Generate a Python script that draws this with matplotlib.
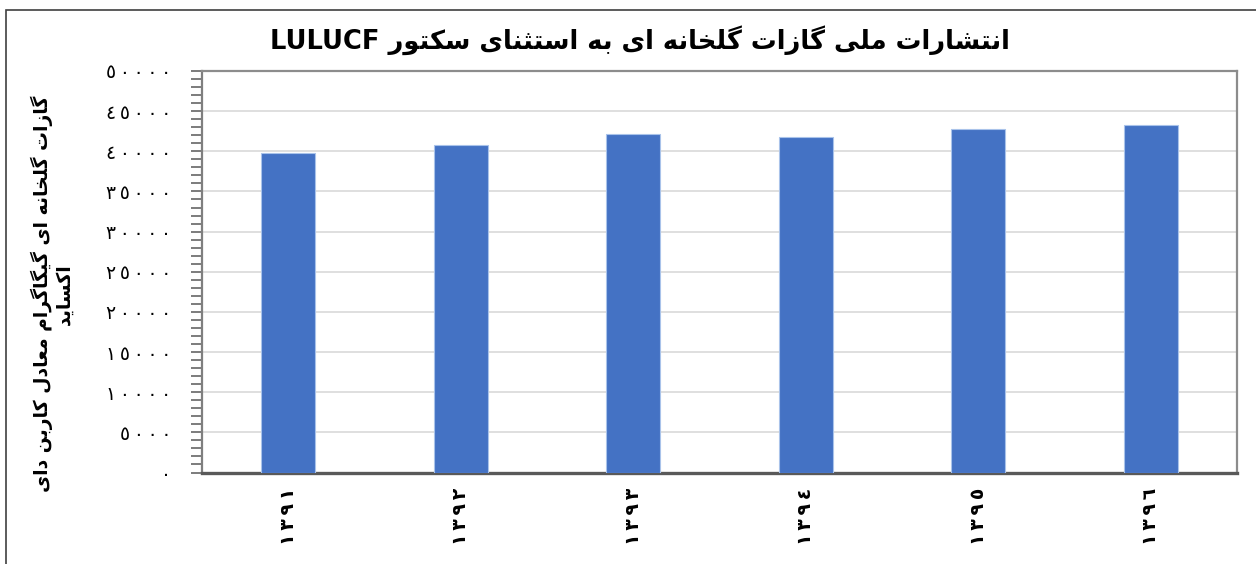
import re

import matplotlib
matplotlib.use("Agg")
import matplotlib.pyplot as plt
from matplotlib.patches import Rectangle
from matplotlib.ticker import MultipleLocator

# data
years = ["1391", "1392", "1393", "1394", "1395", "1396"]
emissions = [39800, 40800, 42100, 41800, 42800, 43300]
y_ticks = [0, 5000, 10000, 15000, 20000, 25000, 30000, 35000, 40000, 45000, 50000]

title_text = "انتشارات ملی گازات گلخانه ای به استثنای سکتور LULUCF"
ylabel_lines = ["گازات گلخانه ای گیگاگرام معادل کاربن دای", "اکساید"]

BAR_COLOR = "#4472C4"

# contextual forms: isolated, final, initial, medial
FORMS = {
    "ا": ("\uFE8D", "\uFE8E", None, None),
    "د": ("\uFEA9", "\uFEAA", None, None),
    "ر": ("\uFEAD", "\uFEAE", None, None),
    "ز": ("\uFEAF", "\uFEB0", None, None),
    "و": ("\uFEED", "\uFEEE", None, None),
    "ب": ("\uFE8F", "\uFE90", "\uFE91", "\uFE92"),
    "ت": ("\uFE95", "\uFE96", "\uFE97", "\uFE98"),
    "ث": ("\uFE99", "\uFE9A", "\uFE9B", "\uFE9C"),
    "خ": ("\uFEA5", "\uFEA6", "\uFEA7", "\uFEA8"),
    "س": ("\uFEB1", "\uFEB2", "\uFEB3", "\uFEB4"),
    "ش": ("\uFEB5", "\uFEB6", "\uFEB7", "\uFEB8"),
    "ع": ("\uFEC9", "\uFECA", "\uFECB", "\uFECC"),
    "ل": ("\uFEDD", "\uFEDE", "\uFEDF", "\uFEE0"),
    "م": ("\uFEE1", "\uFEE2", "\uFEE3", "\uFEE4"),
    "ن": ("\uFEE5", "\uFEE6", "\uFEE7", "\uFEE8"),
    "ه": ("\uFEE9", "\uFEEA", "\uFEEB", "\uFEEC"),
    "ک": ("\uFB8E", "\uFB8F", "\uFB90", "\uFB91"),
    "گ": ("\uFB92", "\uFB93", "\uFB94", "\uFB95"),
    "ی": ("\uFBFC", "\uFBFD", "\uFBFE", "\uFBFF"),
}


def shape(text):
    out = []
    for i, ch in enumerate(text):
        if ch not in FORMS:
            out.append(ch)
            continue
        prev = text[i - 1] if i > 0 else ""
        nxt = text[i + 1] if i + 1 < len(text) else ""
        joins_prev = prev in FORMS and FORMS[prev][2] is not None
        joins_next = FORMS[ch][2] is not None and nxt in FORMS
        iso, fin, ini, med = FORMS[ch]
        if joins_prev and joins_next:
            out.append(med)
        elif joins_prev:
            out.append(fin)
        elif joins_next:
            out.append(ini)
        else:
            out.append(iso)
    visual = "".join(out)[::-1]
    return re.sub(r"[A-Za-z0-9]+", lambda m: m.group(0)[::-1], visual)


def arabic_digits(s):
    # spaced out a little, like the reference
    digits = str(s).translate(str.maketrans("0123456789", "٠١٢٣٤٥٦٧٨٩"))
    return "\u2009".join(digits)


plt.rcParams["font.family"] = ["DejaVu Sans"]

fig = plt.figure(figsize=(12.56, 5.64), dpi=100)
ax = fig.add_axes([202 / 1256, 1 - 472.5 / 564, 1035 / 1256, 401.5 / 564])

x = list(range(len(years)))
ax.bar(x, emissions, width=0.315, color=BAR_COLOR, edgecolor="#a9c3ea", linewidth=0.8, zorder=3)

ax.set_xlim(-0.5, len(years) - 0.5)
ax.set_ylim(0, 50000)
ax.set_yticks(y_ticks)
ax.set_yticklabels([arabic_digits(v) for v in y_ticks], fontsize=13.5)
ax.yaxis.set_minor_locator(MultipleLocator(1000))
ax.tick_params(axis="y", which="both", direction="out", length=8, width=1.1,
               color="#595959", pad=14)
ax.set_xticks(x)
ax.set_xticklabels([arabic_digits(y) for y in years], rotation=90, fontsize=13.5,
                   fontweight="bold", va="top")
ax.tick_params(axis="x", length=0, pad=11)

ax.grid(axis="y", color="#d9d9d9", linewidth=1.2, zorder=0)
ax.set_axisbelow(True)

for side in ("top", "right"):
    ax.spines[side].set_color("#8c8c8c")
    ax.spines[side].set_linewidth(1.6)
ax.spines["left"].set_color("#7f7f7f")
ax.spines["left"].set_linewidth(1.6)
ax.spines["bottom"].set_color("#595959")
ax.spines["bottom"].set_linewidth(2.4)

fig.text(640 / 1256, 1 - 40 / 564, shape(title_text), ha="center", va="center",
         fontsize=18.5, fontweight="bold")
fig.text(52 / 1256, 1 - 294 / 564, "\n".join(shape(l) for l in ylabel_lines),
         rotation=90, ha="center", va="center", multialignment="center",
         fontsize=13.5, fontweight="bold", linespacing=1.1)

# outer chart frame
fig.patches.append(Rectangle((6 / 1256, -0.05), 1.2, 1.05 - 10 / 564, transform=fig.transFigure,
                             fill=False, edgecolor="#404040", linewidth=1.2))

fig.savefig("out.png", dpi=100)
